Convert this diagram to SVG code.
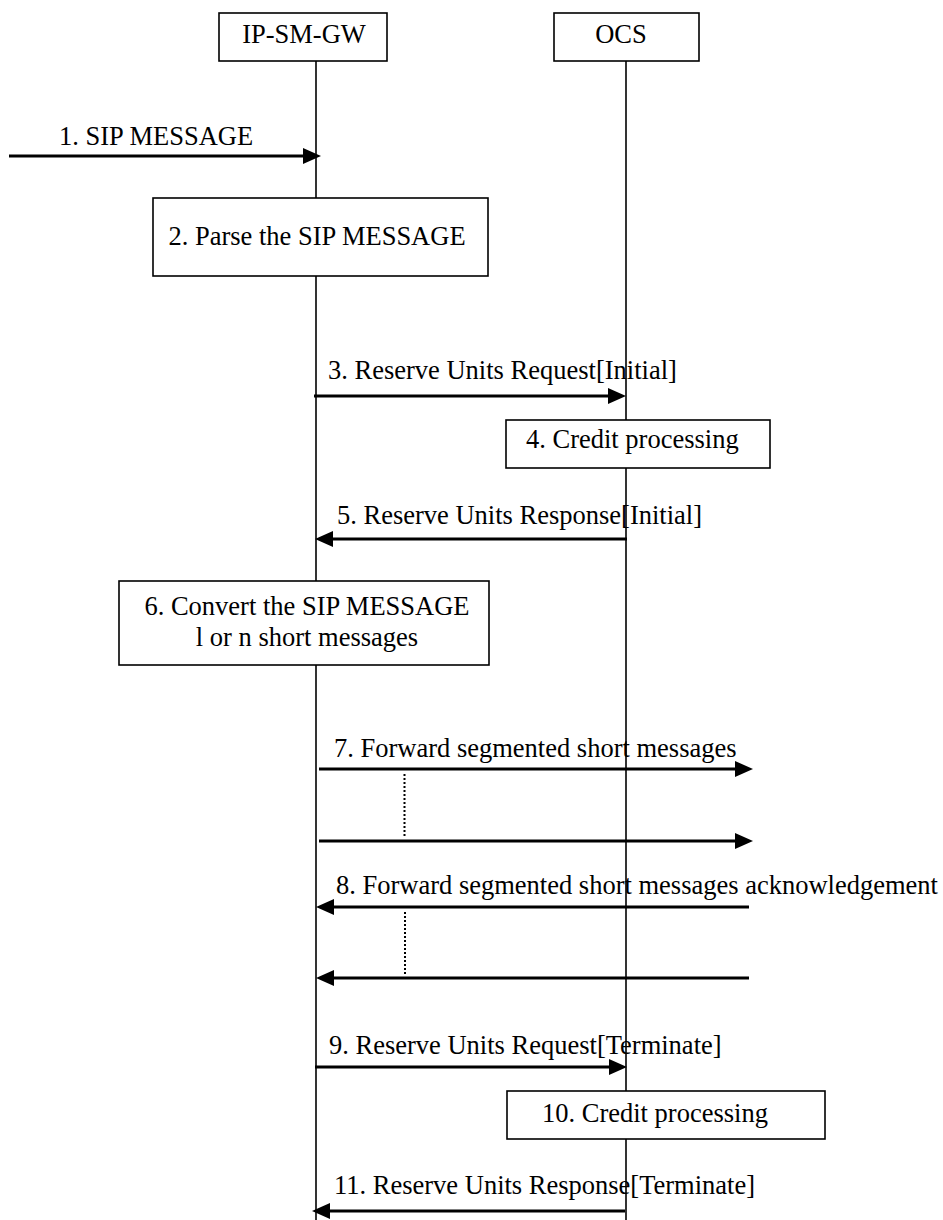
<svg xmlns="http://www.w3.org/2000/svg" width="943" height="1220" viewBox="0 0 943 1220">
<style>
text{font-family:"Liberation Serif","Times New Roman",serif;font-size:26.5px;fill:#000}
.box{fill:#fff;stroke:#000;stroke-width:1.6}
.life{stroke:#000;stroke-width:1.6;fill:none}
.msg{stroke:#000;stroke-width:3;fill:none;marker-end:url(#ah)}
.dot{stroke:#000;stroke-width:2;stroke-dasharray:2 2;fill:none}
</style>
<defs>
<marker id="ah" viewBox="0 0 18 16" markerWidth="18" markerHeight="16" refX="8" refY="8" orient="auto" markerUnits="userSpaceOnUse">
<path d="M0,0 L18,8 L0,16 z" fill="#000"/>
</marker>
</defs>
<g id="lifelines">
<line class="life" x1="316" y1="61" x2="316" y2="1220"/>
<line class="life" x1="626" y1="61" x2="626" y2="1220"/>
</g>
<g id="node-ipsmgw">
<rect class="box" x="219" y="13" width="168" height="48"/>
<text x="304" y="43" text-anchor="middle">IP-SM-GW</text>
</g>
<g id="node-ocs">
<rect class="box" x="554" y="13" width="145" height="48"/>
<text x="621" y="43" text-anchor="middle">OCS</text>
</g>
<g id="node-step2">
<rect class="box" x="153" y="198" width="335" height="78"/>
<text x="317" y="245" text-anchor="middle">2. Parse the SIP MESSAGE</text>
</g>
<g id="node-step4">
<rect class="box" x="506" y="420" width="264" height="48"/>
<text x="526" y="448">4. Credit processing</text>
</g>
<g id="node-step6">
<rect class="box" x="119" y="581" width="370" height="84"/>
<text x="307" y="615" text-anchor="middle">6. Convert the SIP MESSAGE</text>
<text x="307" y="646" text-anchor="middle">l or n short messages</text>
</g>
<g id="node-step10">
<rect class="box" x="507" y="1091" width="318" height="48"/>
<text x="542" y="1122">10. Credit processing</text>
</g>
<g id="connectors">
<line class="msg" x1="9" y1="156" x2="311" y2="156"/>
<text x="59" y="145">1. SIP MESSAGE</text>
<line class="msg" x1="314" y1="396" x2="616" y2="396"/>
<text x="328" y="379">3. Reserve Units Request[Initial]</text>
<line class="msg" x1="627" y1="539" x2="325" y2="539"/>
<text x="337" y="524">5. Reserve Units Response[Initial]</text>
<line class="msg" x1="319" y1="769" x2="743" y2="769"/>
<text x="334" y="757">7. Forward segmented short messages</text>
<line class="dot" x1="404.5" y1="774" x2="404.5" y2="836"/>
<line class="msg" x1="319" y1="841" x2="743" y2="841"/>
<line class="msg" x1="749" y1="907" x2="326" y2="907"/>
<text x="336" y="894">8. Forward segmented short messages acknowledgement</text>
<line class="dot" x1="405" y1="912" x2="405" y2="974"/>
<line class="msg" x1="749" y1="978" x2="326" y2="978"/>
<line class="msg" x1="315" y1="1067" x2="617" y2="1067"/>
<text x="329" y="1054">9. Reserve Units Request[Terminate]</text>
<line class="msg" x1="625" y1="1211" x2="322" y2="1211"/>
<text x="334" y="1194">11. Reserve Units Response[Terminate]</text>
</g>
</svg>
